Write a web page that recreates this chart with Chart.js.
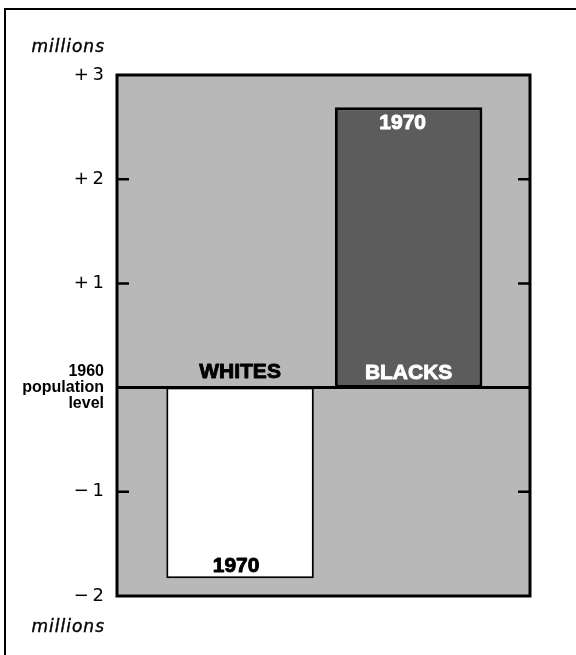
<!DOCTYPE html>
<html>
<head>
<meta charset="utf-8">
<script src="https://cdn.jsdelivr.net/npm/chart.js@4/dist/chart.umd.min.js"></script>
<style>
  html, body { margin: 0; padding: 0; background: #ffffff; }
  #wrap { width: 576px; height: 655px; }
</style>
</head>
<body>
<div id="wrap"><canvas id="c" width="576" height="655"></canvas></div>
<script>
// ---- data ----
const categories = ['WHITES', 'BLACKS'];
const change1960to1970 = [-1.83, 2.69];          // millions, change from 1960 level
const valueLabels = ['1970', '1970'];
const yTickValues = [3, 2, 1, 0, -1, -2];
const yTickLabels = ['+\u20093', '+\u20092', '+\u20091', ['1960', 'population', 'level'], '\u2212\u20091', '\u2212\u20092'];
const unitLabel = 'millions';

// ---- styles ----
const FONT = '"Liberation Sans", Arial, Helvetica, sans-serif';
const FONT_REG = '"DejaVu Sans", "Liberation Sans", sans-serif';
const PLOT_BG = '#b8b8b8';
const BAR_FILL = ['#ffffff', '#5c5c5c'];
const BAR_BORDER = [2, 3];
const CAT_TEXT = ['#000000', '#ffffff'];

function heavyText(ctx, text, x, y, color) {
  ctx.fillStyle = color;
  ctx.strokeStyle = color;
  ctx.lineWidth = 0.9;
  ctx.lineJoin = 'round';
  ctx.strokeText(text, x, y);
  ctx.fillText(text, x, y);
}

const decorPlugin = {
  id: 'decor',
  beforeDraw(chart) {
    const { ctx, chartArea: a } = chart;
    ctx.save();
    ctx.fillStyle = '#ffffff';
    ctx.fillRect(0, 0, chart.width, chart.height);
    // outer frame (left and top only visible)
    ctx.strokeStyle = '#000';
    ctx.lineWidth = 2;
    ctx.beginPath();
    ctx.moveTo(5, chart.height);
    ctx.lineTo(5, 9);
    ctx.lineTo(chart.width, 9);
    ctx.stroke();
    // plot background
    ctx.fillStyle = PLOT_BG;
    ctx.fillRect(a.left, a.top, a.right - a.left, a.bottom - a.top);
    ctx.restore();
  },
  afterDatasetsDraw(chart) {
    const { ctx, chartArea: a } = chart;
    const y = chart.scales.y;
    ctx.save();
    // zero (1960 level) line
    const y0 = y.getPixelForValue(0);
    ctx.strokeStyle = '#000';
    ctx.lineWidth = 3;
    ctx.beginPath();
    ctx.moveTo(a.left, y0);
    ctx.lineTo(a.right, y0);
    ctx.stroke();
    // plot frame
    ctx.lineWidth = 3;
    ctx.strokeRect(a.left, a.top, a.right - a.left, a.bottom - a.top);
    // inward tick marks
    ctx.lineWidth = 2.5;
    yTickValues.forEach(v => {
      if (v === 0 || v === y.max || v === y.min) return;
      const py = y.getPixelForValue(v);
      ctx.beginPath();
      ctx.moveTo(a.left, py); ctx.lineTo(a.left + 12, py);
      ctx.moveTo(a.right, py); ctx.lineTo(a.right - 12, py);
      ctx.stroke();
    });
    // unit labels
    ctx.font = 'italic 17px ' + FONT_REG;
    ctx.letterSpacing = '1px';
    ctx.textAlign = 'right';
    ctx.textBaseline = 'middle';
    ctx.fillStyle = '#000';
    ctx.strokeStyle = '#000';
    ctx.lineWidth = 0.4;
    [a.top - 27, a.bottom + 32].forEach(py => {
      ctx.strokeText(unitLabel, a.left - 12, py);
      ctx.fillText(unitLabel, a.left - 12, py);
    });
    ctx.letterSpacing = '0px';
    // bar labels
    const meta = chart.getDatasetMeta(0);
    ctx.textAlign = 'center';
    ctx.font = 'bold 21px ' + FONT;
    meta.data.forEach((bar, i) => {
      const v = change1960to1970[i];
      const base = bar.base;
      if (v < 0) {
        heavyText(ctx, categories[i], bar.x, base - 15, '#000');
        heavyText(ctx, valueLabels[i], bar.x - 4, bar.y - 12, '#000');
      } else {
        heavyText(ctx, categories[i], bar.x, base - 14, CAT_TEXT[i]);
        heavyText(ctx, valueLabels[i], bar.x - 6, bar.y + 16, CAT_TEXT[i]);
      }
    });
    ctx.restore();
  }
};

new Chart(document.getElementById('c'), {
  type: 'bar',
  data: {
    datasets: [{
      data: categories.map((c, i) => ({ x: i + 1, y: change1960to1970[i] })),
      backgroundColor: BAR_FILL,
      borderColor: '#000000',
      borderWidth: BAR_BORDER,
      borderSkipped: false,
      barPercentage: 0.875,
      categoryPercentage: 1.0
    }]
  },
  options: {
    responsive: false,
    devicePixelRatio: 1,
    animation: false,
    layout: { padding: { left: 0, right: 46, top: 75, bottom: 59 } },
    plugins: { legend: { display: false }, tooltip: { enabled: false } },
    scales: {
      x: {
        type: 'linear',
        display: false,
        offset: false,
        min: 0.27,
        max: 2.72,
        afterBuildTicks(scale) { scale.ticks = categories.map((c, i) => ({ value: i + 1 })); }
      },
      y: {
        min: -2,
        max: 3,
        afterFit(scale) { scale.width = 117; },
        afterBuildTicks(scale) { scale.ticks = yTickValues.map(v => ({ value: v })); },
        grid: { display: false, drawTicks: false },
        border: { display: false },
        ticks: {
          autoSkip: false,
          padding: 13,
          color: '#000',
          callback(value) {
            const i = yTickValues.indexOf(value);
            return i >= 0 ? yTickLabels[i] : '';
          },
          font(ctx) {
            if (ctx.tick && ctx.tick.value === 0) {
              return { family: FONT, size: 16, weight: 'bold', lineHeight: 1.03 };
            }
            return { family: FONT_REG, size: 18, weight: 'normal' };
          }
        }
      }
    }
  },
  plugins: [decorPlugin]
});
</script>
</body>
</html>
